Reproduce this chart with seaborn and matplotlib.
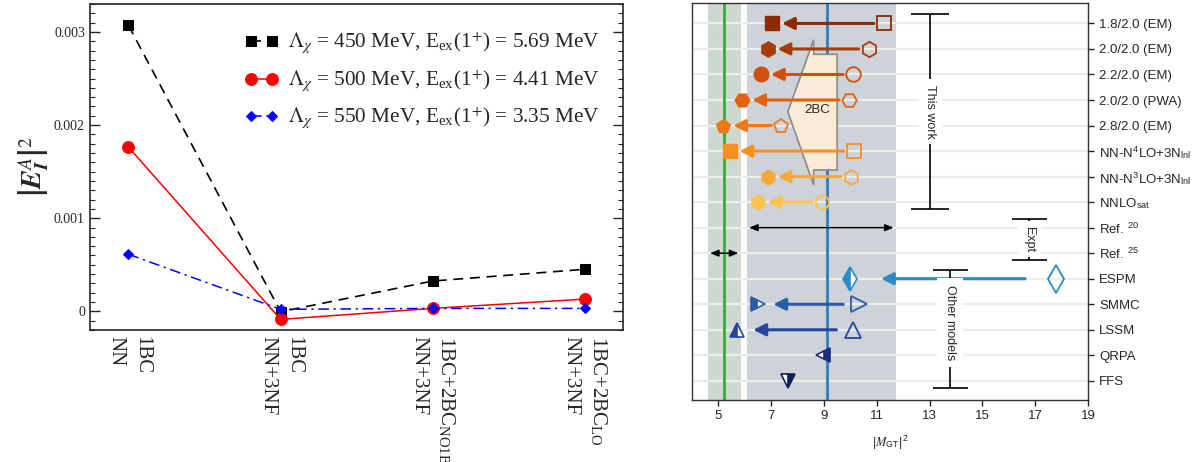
import numpy as np
import matplotlib
matplotlib.use("Agg")
import matplotlib.pyplot as plt
import seaborn as sns
from matplotlib.patches import Polygon
from matplotlib.ticker import MultipleLocator

# ---- painel esquerdo: |E_I^A|^2 por etapa ----
etapas = [
    "1BC\nNN",
    "1BC\nNN+3NF",
    "1BC+2BC$_{\\mathregular{NO1B}}$\nNN+3NF",
    "1BC+2BC$_{\\mathregular{LO}}$\nNN+3NF",
]
e450 = [0.00307, -0.000004, 0.000326, 0.000452]
e500 = [0.001763, -0.000086, 0.000032, 0.000132]
e550 = [0.000613, 0.000022, 0.000032, 0.000032]
rotulos_leg = [
    "$\\Lambda_{\\chi}$ = 450 MeV, E$_{\\mathregular{ex}}$(1$^{+}$) = 5.69 MeV",
    "$\\Lambda_{\\chi}$ = 500 MeV, E$_{\\mathregular{ex}}$(1$^{+}$) = 4.41 MeV",
    "$\\Lambda_{\\chi}$ = 550 MeV, E$_{\\mathregular{ex}}$(1$^{+}$) = 3.35 MeV",
]

# ---- painel direito: |M_GT|^2 ----
linhas = [
    "1.8/2.0 (EM)", "2.0/2.0 (EM)", "2.2/2.0 (EM)", "2.0/2.0 (PWA)", "2.8/2.0 (EM)",
    "NN-N$^{\\mathregular{4}}$LO+3N$_{\\mathregular{lnl}}$",
    "NN-N$^{\\mathregular{3}}$LO+3N$_{\\mathregular{lnl}}$",
    "NNLO$_{\\mathregular{sat}}$",
    "Ref. $^{\\mathregular{20}}$", "Ref. $^{\\mathregular{25}}$",
    "ESPM", "SMMC", "LSSM", "QRPA", "FFS",
]
# este trabalho: sem 2BC (aberto) -> com 2BC (cheio)
mgt_sem_2bc = [11.26, 10.69, 10.10, 9.94, 7.38, 10.12, 10.02, 8.93]
mgt_com_2bc = [7.04, 6.87, 6.62, 5.91, 5.19, 5.43, 6.87, 6.50]
# outros modelos (nan = sem valor sem quenching)
outros_antes = [17.78, 10.31, 10.10, np.nan, np.nan]
outros_depois = [10.00, 6.50, 5.69, 8.97, 7.63]
# experimentos
ref20 = [6.16, 11.64]
ref25 = [4.68, 5.76]
banda_ref20 = [6.10, 11.74]
banda_ref25 = [4.62, 5.84]
linha_ref25 = 5.21
linha_ref20 = 9.12

cores_trab = ["#8c2a04", "#a83c08", "#d0500c", "#e2620f", "#ee7a1a", "#f7901f", "#f9a83a", "#fec44f"]
marc_trab = ["s", "h", "o", "H", "p", "s", "h", "o"]
tam_trab = [10, 11, 10.5, 10.5, 10.5, 10.5, 10.5, 9.5]
cores_outros = ["#2b8cc4", "#2c5ca8", "#2646a0", "#1c2d7a", "#10204f"]
marc_outros = ["d", ">", "^", "<", "v"]
meio_outros = ["left", "left", "left", "right", "right"]
encolhe_outros = [22, 11, 12, 0, 0]

sns.set_style("ticks")
plt.rcParams["mathtext.fontset"] = "stix"
plt.rcParams["font.family"] = ["Liberation Serif", "DejaVu Serif"]
sans = ["Liberation Sans", "DejaVu Sans"]

fig = plt.figure(figsize=(11.98, 4.62), dpi=100)
ax1 = fig.add_axes([0.0755, 0.2857, 0.4445, 0.7056])
ax2 = fig.add_axes([0.5776, 0.1342, 0.3306, 0.8593])

# ---------- painel esquerdo ----------
x = np.arange(len(etapas))
sns.lineplot(x=x, y=e450, ax=ax1, color="black", linestyle=(0, (6, 4)), lw=1.2,
             marker="s", markersize=7, markeredgecolor="black", label=rotulos_leg[0])
sns.lineplot(x=x, y=e500, ax=ax1, color="red", linestyle="-", lw=1.1,
             marker="o", markersize=8.5, markeredgecolor="red", label=rotulos_leg[1])
sns.lineplot(x=x, y=e550, ax=ax1, color="blue", linestyle=(0, (7, 3, 1.5, 3)), lw=1.1,
             marker="D", markersize=5.5, markeredgecolor="blue", label=rotulos_leg[2])

ax1.set_xlim(-0.25, 3.25)
ax1.set_ylim(-0.0002, 0.0033)
ax1.set_yticks([0, 0.001, 0.002, 0.003])
ax1.set_yticklabels(["0", "0.001", "0.002", "0.003"], fontsize=10)
ax1.yaxis.set_minor_locator(MultipleLocator(0.0001))
ax1.tick_params(axis="y", which="major", direction="in", length=7, width=1, left=True, right=True, pad=4)
ax1.tick_params(axis="y", which="minor", direction="in", length=3.5, width=0.8, left=True, right=True)
ax1.set_xticks(x)
ax1.set_xticklabels(etapas, rotation=270, fontsize=15, linespacing=1.5, ha="center", va="top",
                    multialignment="left")
ax1.tick_params(axis="x", length=0, pad=4)
for s in ax1.spines.values():
    s.set_linewidth(1.2)
ax1.set_ylabel(r"$\left|\mathbfit{E}_{\mathbfit{I}}^{A}\right|^{2}$", fontsize=20)
ax1.yaxis.set_label_coords(-0.072, 0.5)
ax1.legend(loc="upper right", bbox_to_anchor=(0.985, 0.963), frameon=False, fontsize=15.3,
           numpoints=2, handlelength=1.6, handletextpad=0.45, labelspacing=0.55, borderaxespad=0.3)

# ---------- painel direito ----------
ax2.set_xlim(4, 19)
ax2.set_ylim(14.75, -0.8)
ax2.axvspan(*banda_ref25, color="#cfd8d0", lw=0, zorder=0)
ax2.axvspan(*banda_ref20, color="#cdd3d8", lw=0, zorder=0)
for i in range(len(linhas)):
    ax2.axhline(i, color="#ededed", lw=1.6, zorder=0.5)
ax2.axvline(linha_ref25, color="#3aaa35", lw=2, zorder=1)
ax2.axvline(linha_ref20, color="#2f7dbb", lw=2, zorder=1)

# seta grande 2BC
seta2bc = Polygon([(8.61, 0.64), (8.61, 1.21), (9.50, 1.21), (9.50, 5.74), (8.61, 5.74),
                   (8.61, 6.33), (7.63, 3.46)], closed=True, facecolor="#f9ebd6",
                  edgecolor="#8a8a8a", lw=1.2, zorder=2)
ax2.add_patch(seta2bc)
ax2.text(8.74, 3.40, "2BC", fontsize=9.5, family=sans, ha="center", va="center", zorder=2.5)

for i in range(len(mgt_sem_2bc)):
    c = cores_trab[i]
    ax2.annotate("", xy=(mgt_com_2bc[i], i), xytext=(mgt_sem_2bc[i], i),
                 arrowprops=dict(arrowstyle="-|>,head_length=0.6,head_width=0.3", color=c,
                                 lw=2.2, shrinkA=7, shrinkB=7, mutation_scale=12), zorder=3)
    ax2.plot(mgt_sem_2bc[i], i, marker=marc_trab[i], ms=tam_trab[i], mfc="none", mec=c, mew=1.3, zorder=4)
    ax2.plot(mgt_com_2bc[i], i, marker=marc_trab[i], ms=tam_trab[i], mfc=c, mec=c, zorder=4)

for j in range(len(outros_depois)):
    i = 10 + j
    c = cores_outros[j]
    if not np.isnan(outros_antes[j]):
        ax2.annotate("", xy=(outros_depois[j], i), xytext=(outros_antes[j], i),
                     arrowprops=dict(arrowstyle="-|>,head_length=0.6,head_width=0.3", color=c,
                                     lw=2.2, shrinkA=encolhe_outros[j], shrinkB=encolhe_outros[j],
                                     mutation_scale=12), zorder=3)
        ax2.plot(outros_antes[j], i, marker=marc_outros[j], ms=14 if j == 0 else 11,
                 mfc="none", mec=c, mew=1.3, zorder=4)
    ax2.plot(outros_depois[j], i, marker=marc_outros[j], ms=12 if j == 0 else 10,
             color=c, fillstyle=meio_outros[j], markerfacecoloralt="white", mec=c, mew=1.2, zorder=4)

# setas duplas dos experimentos
for lim, row in [(ref20, 8), (ref25, 9)]:
    ax2.annotate("", xy=(lim[0], row), xytext=(lim[1], row),
                 arrowprops=dict(arrowstyle="<|-|>,head_length=0.5,head_width=0.2", color="black",
                                 lw=1.1, shrinkA=0, shrinkB=0, mutation_scale=10), zorder=3)

# colchetes
colchetes = [(13.02, -0.35, 7.28, 13.7, "This work", 3.46, 4),
             (16.77, 7.66, 9.28, 12.6, "Expt", 8.45, 4),
             (13.78, 9.65, 14.28, 12.6, "Other models", 11.7, 5)]
for xb, y0, y1, cap, txt, yt, pd_ in colchetes:
    ax2.errorbar(xb, (y0 + y1) / 2, yerr=(y1 - y0) / 2, fmt="none", ecolor="black",
                 elinewidth=1.2, capsize=cap, capthick=1.2, zorder=3)
    ax2.text(xb, yt, txt, rotation=270, ha="center", va="center", fontsize=9, family=sans,
             bbox=dict(fc="white", ec="none", pad=pd_), zorder=5)

ax2.yaxis.tick_right()
ax2.set_yticks(range(len(linhas)))
ax2.set_yticklabels(linhas, fontsize=9.5, family=sans)
ax2.tick_params(axis="y", direction="out", length=4, width=1, right=True, left=False, pad=4)
ax2.set_xticks(range(5, 20, 2))
ax2.set_xticklabels([str(v) for v in range(5, 20, 2)], fontsize=9.5, family=sans)
ax2.tick_params(axis="x", direction="out", length=4, width=1, pad=3)
ax2.set_xlabel(r"|$M$$_{\mathregular{GT}}$|$^{\mathregular{2}}$", fontsize=9, family=sans, labelpad=9)
for s in ax2.spines.values():
    s.set_linewidth(1)
    s.set_color("#333333")

fig.savefig("out.png", dpi=100)
